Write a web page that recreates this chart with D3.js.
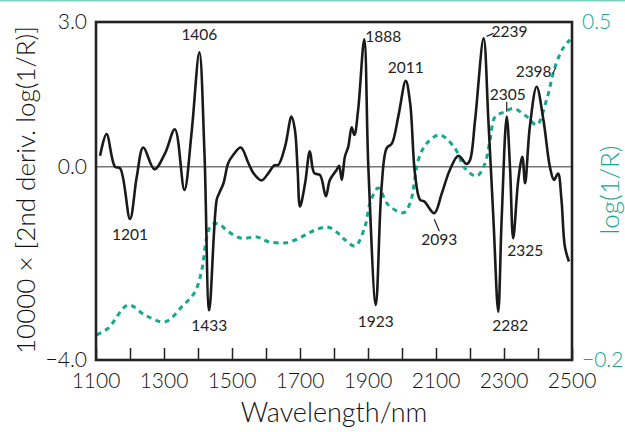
<!DOCTYPE html>
<html>
<head>
<meta charset="utf-8">
<script src="https://cdn.jsdelivr.net/npm/d3@7"></script>
<style>
  body { margin: 0; background: #fff; }
  svg text { font-family: Lato, "Open Sans", sans-serif; font-weight: 300; }
  svg text.peak { font-weight: 400; }
</style>
</head>
<body>
<svg id="chart" width="625" height="432"></svg>
<script>
// 2nd derivative spectrum (wavelength nm, 10000 x 2nd deriv)
var derivWl = [1112, 1131, 1156, 1171, 1200, 1220, 1239, 1272, 1303, 1332, 1360, 1381, 1404, 1419, 1433, 1455,
    1462, 1475, 1489, 1504, 1526, 1548, 1563, 1587, 1607, 1624, 1636, 1656, 1675, 1685, 1693, 1700, 1715, 1729,
    1742, 1759, 1776, 1788, 1808, 1815, 1823, 1832, 1842, 1852, 1860, 1871, 1889, 1901, 1923, 1940, 1955, 1970,
    1989, 2011, 2024, 2038, 2053, 2066, 2095, 2117, 2141, 2166, 2190, 2200, 2215, 2240, 2254, 2269, 2283, 2293,
    2308, 2318, 2327, 2342, 2354, 2362, 2376, 2396, 2416, 2435, 2447, 2459, 2469, 2479, 2491];
var derivVal = [0.23, 0.68, 0.0, -0.03, -1.08, -0.2, 0.40, -0.05, 0.28, 0.78, -0.48, 0.70, 2.37, 0.29, -2.97, -0.68,
    -0.55, -0.34, 0.08, 0.25, 0.40, 0.08, -0.13, -0.28, -0.13, 0.03, 0.04, 0.42, 1.04, 0.77, -0.06, -0.82, -0.34, 0.32,
    -0.13, -0.17, -0.61, -0.27, -0.06, 0.02, -0.27, 0.21, 0.42, 0.82, 0.66, 1.18, 2.64, 0.0, -2.86, -0.41, 0.39, 0.48,
    1.04, 1.78, 1.32, -0.13, -0.68, -0.72, -0.96, -0.55, -0.06, 0.23, 0.06, 0.14, 0.97, 2.66, 0.97, -1.10, -3.0, -1.10,
    1.04, -0.06, -1.48, -0.27, 0.21, -0.34, 0.83, 1.66, 0.97, 0.0, -0.27, -0.14, -0.68, -1.65, -1.96];

// log(1/R) spectrum
var logWl = [1102, 1136, 1195, 1244, 1303, 1352, 1391, 1411, 1426, 1440, 1460, 1489, 1528, 1572, 1607, 1661,
    1705, 1744, 1783, 1818, 1832, 1862, 1891, 1906, 1930, 1960, 2004, 2024, 2048, 2073, 2112, 2156, 2185, 2220,
    2244, 2259, 2274, 2303, 2327, 2367, 2396, 2425, 2450, 2474, 2494];
var logVal = [-0.148, -0.134, -0.086, -0.107, -0.121, -0.090, -0.059, -0.014, 0.055, 0.080, 0.082, 0.066, 0.052,
    0.055, 0.045, 0.043, 0.055, 0.069, 0.075, 0.059, 0.049, 0.036, 0.076, 0.125, 0.156, 0.121, 0.105, 0.125, 0.214,
    0.249, 0.266, 0.238, 0.197, 0.181, 0.207, 0.256, 0.304, 0.314, 0.321, 0.304, 0.287, 0.338, 0.407, 0.446, 0.463];

// peak labels
var peakNames = ["1201", "1406", "1433", "1888", "1923", "2011", "2093", "2239", "2282", "2305", "2325", "2398"];

var xTicks = [1100, 1200, 1300, 1400, 1500, 1600, 1700, 1800, 1900, 2000, 2100, 2200, 2300, 2400, 2500];
var xLabels = [1100, 1300, 1500, 1700, 1900, 2100, 2300, 2500];
var leftTicks = [3.0, 0.0, -4.0];
var rightTicks = [0.5, -0.2];

var teal = "#14a88c";
var margin = {top: 22, right: 53, bottom: 72, left: 96};
var width = 625 - margin.left - margin.right;
var height = 432 - margin.top - margin.bottom;

var svg = d3.select("#chart");

// thin strip at the very top
svg.append("rect")
    .attr("x", 0).attr("y", 0)
    .attr("width", 625).attr("height", 1.5)
    .attr("fill", "#7fd1c4");

var g = svg.append("g")
    .attr("transform", "translate(" + margin.left + "," + margin.top + ")");

var x = d3.scaleLinear().domain([1100, 2500]).range([0, width]);
var yL = d3.scaleLinear().domain([-4, 3]).range([height, 0]);
var yR = d3.scaleLinear().domain([-0.2, 0.5]).range([height, 0]);

var fmt = function(d) { return d < 0 ? "\u2212" + d3.format(".1f")(-d) : d3.format(".1f")(d); };

// zero line
g.append("line")
    .attr("x1", 0).attr("x2", width)
    .attr("y1", yL(0)).attr("y2", yL(0))
    .attr("stroke", "#333").attr("stroke-width", 1);

// log(1/R) dashed
var logData = logWl.map(function(w, i) { return [w, logVal[i]]; });
g.append("path")
    .datum(logData)
    .attr("fill", "none")
    .attr("stroke", teal)
    .attr("stroke-width", 3)
    .attr("stroke-dasharray", "5,4.5")
    .attr("d", d3.line()
        .x(function(d) { return x(d[0]); })
        .y(function(d) { return yR(d[1]); })
        .curve(d3.curveCatmullRom.alpha(0.5)));

// 2nd derivative
var derivData = derivWl.map(function(w, i) { return [w, derivVal[i]]; });
g.append("path")
    .datum(derivData)
    .attr("fill", "none")
    .attr("stroke", "#1a1a1a")
    .attr("stroke-width", 2.6)
    .attr("stroke-linejoin", "round")
    .attr("d", d3.line()
        .x(function(d) { return x(d[0]); })
        .y(function(d) { return yL(d[1]); })
        .curve(d3.curveCatmullRom.alpha(0.5)));

// bottom ticks (inward)
var xAxis = d3.axisBottom(x).tickValues(xTicks).tickSize(-12).tickFormat("");
var xg = g.append("g").attr("transform", "translate(0," + height + ")").call(xAxis);
xg.select(".domain").remove();
xg.selectAll("line").attr("stroke", "#222").attr("stroke-width", 1.5);

g.selectAll(".xlab")
    .data(xLabels)
    .enter()
    .append("text")
        .attr("class", "xlab")
        .attr("x", function(d) { return x(d); })
        .attr("y", height + 28)
        .attr("text-anchor", "middle")
        .attr("font-size", 21)
        .attr("fill", "#111")
        .text(function(d) { return d; });

// left labels
g.selectAll(".ylab")
    .data(leftTicks)
    .enter()
    .append("text")
        .attr("class", "ylab")
        .attr("x", -9)
        .attr("y", function(d) { return yL(d) + 7; })
        .attr("text-anchor", "end")
        .attr("font-size", 21)
        .attr("fill", "#111")
        .text(fmt);

// right labels
g.selectAll(".rlab")
    .data(rightTicks)
    .enter()
    .append("text")
        .attr("class", "rlab")
        .attr("x", width + 10)
        .attr("y", function(d) { return yR(d) + 7; })
        .attr("text-anchor", "start")
        .attr("font-size", 21)
        .attr("fill", teal)
        .text(fmt);

// frame
g.append("rect")
    .attr("x", 0).attr("y", 0)
    .attr("width", width).attr("height", height)
    .attr("fill", "none")
    .attr("stroke", "#222")
    .attr("stroke-width", 2.6);

// peak labels, positioned relative to their peak on the curve
var offsets = {
    "1201": [0, 21, "middle"], "1406": [0, -12, "middle"], "1433": [0, 21, "middle"],
    "1888": [1, 3, "start"], "1923": [0, 22, "middle"], "2011": [0, -8, "middle"],
    "2093": [5, 32, "middle"], "2239": [8, -1, "start"], "2282": [12, 19, "middle"],
    "2305": [1, -17, "middle"], "2325": [12, 18, "middle"], "2398": [-3, -10, "middle"]
};
peakNames.forEach(function(p) {
    var w = +p;
    var idx = d3.minIndex(derivWl, function(d) { return Math.abs(d - w); });
    var px = x(derivWl[idx]);
    var py = yL(derivVal[idx]);
    var o = offsets[p];
    g.append("text")
        .attr("class", "peak")
        .attr("x", px + o[0])
        .attr("y", py + o[1])
        .attr("text-anchor", o[2])
        .attr("font-size", 15.5)
        .attr("fill", "#222")
        .text(p);
});

// leader lines
function leader(w, dx1, dy1, dx2, dy2) {
    var idx = d3.minIndex(derivWl, function(d) { return Math.abs(d - w); });
    var px = x(derivWl[idx]), py = yL(derivVal[idx]);
    g.append("line")
        .attr("x1", px + dx1).attr("y1", py + dy1)
        .attr("x2", px + dx2).attr("y2", py + dy2)
        .attr("stroke", "#222").attr("stroke-width", 1.2);
}
leader(2093, 0, 6, 5, 18);
leader(2239, 3, -2, 10, -5);
leader(2305, 0, -15, 0, -5);
leader(2398, 16, -13, 19, -19);

// axis titles
svg.append("text")
    .attr("transform", "translate(35,190) rotate(-90)")
    .attr("text-anchor", "middle")
    .attr("font-size", 26)
    .attr("fill", "#111")
    .text("10000 \u00d7 [2nd deriv. log(1/R)]");

svg.append("text")
    .attr("transform", "translate(619,190) rotate(-90)")
    .attr("text-anchor", "middle")
    .attr("font-size", 26)
    .attr("fill", teal)
    .text("log(1/R)");

svg.append("text")
    .attr("x", 334)
    .attr("y", 422)
    .attr("text-anchor", "middle")
    .attr("font-size", 27)
    .attr("fill", "#111")
    .text("Wavelength/nm");
</script>
</body>
</html>
